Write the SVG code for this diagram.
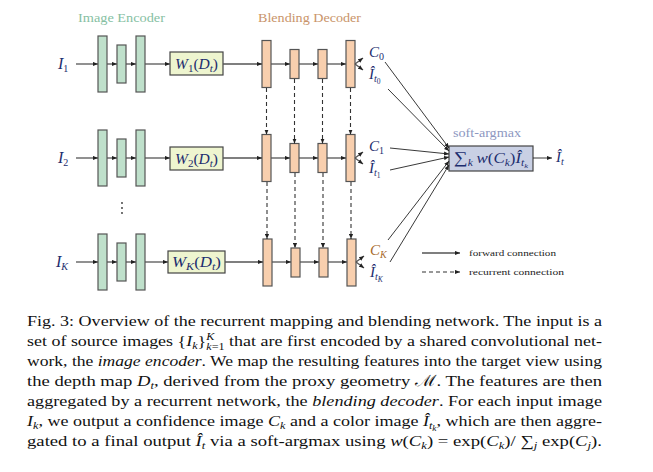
<svg xmlns="http://www.w3.org/2000/svg" width="653" height="472" viewBox="0 0 653 472">
<defs>
<style>
.enc{fill:#bfe0cb;stroke:#555;stroke-width:1.2}
.wbox{fill:#eef5cf;stroke:#444;stroke-width:1.2}
.dec{fill:#f8cfae;stroke:#555;stroke-width:1.2}
.sab{fill:#c9d0e4;stroke:#444;stroke-width:1.2}
.fw{stroke:#555;stroke-width:1.3;fill:none}
.th{stroke:#222;stroke-width:0.9;fill:none}
.rc{stroke:#333;stroke-width:1.1;fill:none;stroke-dasharray:4 3}
.m{font-family:"Liberation Serif",serif;font-style:italic;fill:#1c2d6e}
.cap{font-family:"Liberation Serif",serif;font-size:15.5px;fill:#111}
.it{font-style:italic}
.lg{font-family:"Liberation Serif",serif;font-size:9px;fill:#222}
</style>
<marker id="ah" viewBox="0 0 6 6" refX="6" refY="3" markerWidth="5" markerHeight="5" markerUnits="userSpaceOnUse" orient="auto"><path d="M0,0.5 L6,3 L0,5.5 z" fill="#222"/></marker>
</defs>
<rect width="653" height="472" fill="#fff"/>

<g id="titles" font-family="Liberation Serif, serif" font-size="13.5">
<text x="78" y="22" fill="#86bfa3" textLength="87" lengthAdjust="spacingAndGlyphs">Image Encoder</text>
<text x="258" y="22" fill="#c9946a" textLength="103" lengthAdjust="spacingAndGlyphs">Blending Decoder</text>
</g>

<g id="inputs" class="m" font-size="16">
<text x="58" y="69">I<tspan font-size="10" dy="3" font-style="normal">1</tspan></text>
<text x="58" y="163">I<tspan font-size="10" dy="3" font-style="normal">2</tspan></text>
<text x="56" y="267">I<tspan font-size="10" dy="3">K</tspan></text>
</g>

<g id="encoder1">
<rect class="enc" x="98" y="36" width="9" height="56"/>
<rect class="enc" x="117" y="45" width="9" height="38"/>
<rect class="enc" x="136" y="36" width="9" height="56"/>
</g>
<g id="encoder2">
<rect class="enc" x="98" y="130" width="9" height="56"/>
<rect class="enc" x="117" y="139" width="9" height="38"/>
<rect class="enc" x="136" y="130" width="9" height="56"/>
</g>
<g id="encoderK">
<rect class="enc" x="98" y="234" width="9" height="56"/>
<rect class="enc" x="117" y="243" width="9" height="38"/>
<rect class="enc" x="136" y="234" width="9" height="56"/>
</g>
<g id="dots" fill="#333">
<circle cx="122" cy="203" r="0.9"/><circle cx="122" cy="208" r="0.9"/><circle cx="122" cy="213" r="0.9"/>
</g>

<g id="warp1">
<rect class="wbox" x="170" y="52" width="53" height="23"/>
<text class="m" x="175" y="68.5" font-size="14" textLength="43" lengthAdjust="spacingAndGlyphs">W<tspan font-size="10" dy="3" font-style="normal">1</tspan><tspan dy="-3" font-style="normal">(</tspan>D<tspan font-size="10" dy="3">t</tspan><tspan dy="-3" font-style="normal">)</tspan></text>
</g>
<g id="warp2">
<rect class="wbox" x="170" y="147" width="53" height="23"/>
<text class="m" x="175" y="163.5" font-size="14" textLength="43" lengthAdjust="spacingAndGlyphs">W<tspan font-size="10" dy="3" font-style="normal">2</tspan><tspan dy="-3" font-style="normal">(</tspan>D<tspan font-size="10" dy="3">t</tspan><tspan dy="-3" font-style="normal">)</tspan></text>
</g>
<g id="warpK">
<rect class="wbox" x="168" y="251" width="57" height="22"/>
<text class="m" x="172" y="267" font-size="14" textLength="49" lengthAdjust="spacingAndGlyphs">W<tspan font-size="10" dy="3">K</tspan><tspan dy="-3" font-style="normal">(</tspan>D<tspan font-size="10" dy="3">t</tspan><tspan dy="-3" font-style="normal">)</tspan></text>
</g>

<g id="decoder1">
<rect class="dec" x="262" y="40.5" width="9" height="47"/>
<rect class="dec" x="290" y="49.5" width="9" height="29"/>
<rect class="dec" x="318" y="49.5" width="9" height="29"/>
<rect class="dec" x="346" y="40.5" width="9" height="47"/>
</g>
<g id="decoder2">
<rect class="dec" x="262" y="134.5" width="9" height="47"/>
<rect class="dec" x="290" y="143.5" width="9" height="29"/>
<rect class="dec" x="318" y="143.5" width="9" height="29"/>
<rect class="dec" x="346" y="134.5" width="9" height="47"/>
</g>
<g id="decoderK">
<rect class="dec" x="263" y="239" width="9" height="47"/>
<rect class="dec" x="291" y="248" width="9" height="29"/>
<rect class="dec" x="319" y="248" width="9" height="29"/>
<rect class="dec" x="347" y="239" width="9" height="47"/>
</g>

<g id="outputs" class="m" font-size="15">
<text x="369" y="57">C<tspan font-size="10" dy="3" font-style="normal">0</tspan></text>
<text x="369" y="79">Î<tspan font-size="10" dy="3">t</tspan><tspan font-size="7.5" dy="2" font-style="normal">0</tspan></text>
<text x="369" y="151">C<tspan font-size="10" dy="3" font-style="normal">1</tspan></text>
<text x="369" y="173">Î<tspan font-size="10" dy="3">t</tspan><tspan font-size="7.5" dy="2" font-style="normal">1</tspan></text>
<text x="370" y="255" fill="#a86a2a">C<tspan font-size="10" dy="3">K</tspan></text>
<text x="370" y="277">Î<tspan font-size="10" dy="3">t</tspan><tspan font-size="7.5" dy="2">K</tspan></text>
</g>

<g id="softargmax">
<text x="453" y="137" font-family="Liberation Serif, serif" font-size="12.5" fill="#8d97bf" textLength="68" lengthAdjust="spacingAndGlyphs">soft-argmax</text>
<rect class="sab" x="449" y="146" width="84" height="25"/>
<text class="m" x="454" y="163" font-size="14" fill="#111" textLength="74" lengthAdjust="spacingAndGlyphs"><tspan font-size="16" font-style="normal">∑</tspan><tspan font-size="9.5" dy="3">k</tspan><tspan dy="-3" dx="3">w</tspan><tspan font-style="normal">(</tspan>C<tspan font-size="9.5" dy="3">k</tspan><tspan dy="-3" font-style="normal">)</tspan>Î<tspan font-size="9.5" dy="3">t</tspan><tspan font-size="7" dy="2">k</tspan></text>
</g>
<g id="final" class="m" font-size="15">
<text x="556" y="162">Î<tspan font-size="10" dy="3">t</tspan></text>
</g>

<g id="connectors">
<path class="fw" marker-end="url(#ah)" d="M76,64 H98"/>
<path class="fw" marker-end="url(#ah)" d="M107,64 H117"/>
<path class="fw" marker-end="url(#ah)" d="M126,64 H136"/>
<path class="fw" marker-end="url(#ah)" d="M145,64 H170"/>
<path class="fw" marker-end="url(#ah)" d="M223,64 H262"/>
<path class="fw" marker-end="url(#ah)" d="M271,64 H290"/>
<path class="fw" marker-end="url(#ah)" d="M299,64 H318"/>
<path class="fw" marker-end="url(#ah)" d="M327,64 H346"/>
<path class="fw" marker-end="url(#ah)" d="M355,64 L363,58"/>
<path class="fw" marker-end="url(#ah)" d="M355,64 L363,70"/>
<path class="fw" marker-end="url(#ah)" d="M76,158 H98"/>
<path class="fw" marker-end="url(#ah)" d="M107,158 H117"/>
<path class="fw" marker-end="url(#ah)" d="M126,158 H136"/>
<path class="fw" marker-end="url(#ah)" d="M145,158 H170"/>
<path class="fw" marker-end="url(#ah)" d="M223,158 H262"/>
<path class="fw" marker-end="url(#ah)" d="M271,158 H290"/>
<path class="fw" marker-end="url(#ah)" d="M299,158 H318"/>
<path class="fw" marker-end="url(#ah)" d="M327,158 H346"/>
<path class="fw" marker-end="url(#ah)" d="M355,158 L363,152"/>
<path class="fw" marker-end="url(#ah)" d="M355,158 L363,164"/>
<path class="fw" marker-end="url(#ah)" d="M76,262 H98"/>
<path class="fw" marker-end="url(#ah)" d="M107,262 H117"/>
<path class="fw" marker-end="url(#ah)" d="M126,262 H136"/>
<path class="fw" marker-end="url(#ah)" d="M145,262 H168"/>
<path class="fw" marker-end="url(#ah)" d="M225,262 H263"/>
<path class="fw" marker-end="url(#ah)" d="M272,262 H291"/>
<path class="fw" marker-end="url(#ah)" d="M300,262 H319"/>
<path class="fw" marker-end="url(#ah)" d="M328,262 H347"/>
<path class="fw" marker-end="url(#ah)" d="M356,262 L364,256"/>
<path class="fw" marker-end="url(#ah)" d="M356,262 L364,268"/>
<path class="rc" marker-end="url(#ah)" d="M266.5,88 V134.5"/>
<path class="rc" marker-end="url(#ah)" d="M294.5,79 V143.5"/>
<path class="rc" marker-end="url(#ah)" d="M322.5,79 V143.5"/>
<path class="rc" marker-end="url(#ah)" d="M350.5,88 V134.5"/>
<path class="rc" marker-end="url(#ah)" d="M267,182 V239"/>
<path class="rc" marker-end="url(#ah)" d="M295,173 V248"/>
<path class="rc" marker-end="url(#ah)" d="M323,173 V248"/>
<path class="rc" marker-end="url(#ah)" d="M351,182 V239"/>
<path class="th" marker-end="url(#ah)" d="M385,62 L449,148"/>
<path class="th" marker-end="url(#ah)" d="M388,89 L449,151"/>
<path class="th" marker-end="url(#ah)" d="M390,148 L449,154"/>
<path class="th" marker-end="url(#ah)" d="M390,170 L449,157"/>
<path class="th" marker-end="url(#ah)" d="M388,240 L449,161"/>
<path class="th" marker-end="url(#ah)" d="M390,262 L449,165"/>
<path class="th" marker-end="url(#ah)" d="M533,158 H552"/>
<path class="fw" stroke="#777" marker-end="url(#ah)" d="M422,253 H460"/>
<path class="rc" marker-end="url(#ah)" d="M422,272 H460"/>
</g>

<g id="legend">
<text class="lg" x="469" y="256" textLength="87" lengthAdjust="spacingAndGlyphs">forward connection</text>
<text class="lg" x="469" y="275" textLength="95" lengthAdjust="spacingAndGlyphs">recurrent connection</text>
</g>

<g id="caption" class="cap">
<text x="27" y="326" textLength="575" lengthAdjust="spacingAndGlyphs">Fig. 3: Overview of the recurrent mapping and blending network. The input is a</text>
<text x="27" y="346" textLength="575" lengthAdjust="spacingAndGlyphs">set of source images {<tspan class="it">I</tspan><tspan class="it" font-size="10.5" dy="3">k</tspan><tspan dy="-3">}</tspan><tspan class="it" font-size="10.5" dy="-6">K</tspan><tspan font-size="10.5" dx="-7" dy="10"><tspan class="it">k</tspan>=1</tspan><tspan dy="-4"> that are first encoded by a shared convolutional net-</tspan></text>
<text x="27" y="366" textLength="575" lengthAdjust="spacingAndGlyphs">work, the <tspan class="it">image encoder</tspan>. We map the resulting features into the target view using</text>
<text x="27" y="386" textLength="575" lengthAdjust="spacingAndGlyphs">the depth map <tspan class="it">D</tspan><tspan class="it" font-size="10.5" dy="3">t</tspan><tspan dy="-3">, derived from the proxy geometry ℳ. The features are then</tspan></text>
<text x="27" y="406" textLength="575" lengthAdjust="spacingAndGlyphs">aggregated by a recurrent network, the <tspan class="it">blending decoder</tspan>. For each input image</text>
<text x="27" y="426" textLength="575" lengthAdjust="spacingAndGlyphs"><tspan class="it">I</tspan><tspan class="it" font-size="10.5" dy="3">k</tspan><tspan dy="-3">, we output a confidence image </tspan><tspan class="it">C</tspan><tspan class="it" font-size="10.5" dy="3">k</tspan><tspan dy="-3"> and a color image </tspan><tspan class="it">Î</tspan><tspan class="it" font-size="10.5" dy="3">t</tspan><tspan class="it" font-size="8" dy="2">k</tspan><tspan dy="-5">, which are then aggre-</tspan></text>
<text x="27" y="446" textLength="575" lengthAdjust="spacingAndGlyphs">gated to a final output <tspan class="it">Î</tspan><tspan class="it" font-size="10.5" dy="3">t</tspan><tspan dy="-3"> via a soft-argmax using </tspan><tspan class="it">w</tspan>(<tspan class="it">C</tspan><tspan class="it" font-size="10.5" dy="3">k</tspan><tspan dy="-3">) = exp(</tspan><tspan class="it">C</tspan><tspan class="it" font-size="10.5" dy="3">k</tspan><tspan dy="-3">)/ ∑</tspan><tspan class="it" font-size="10.5" dy="3">j</tspan><tspan dy="-3"> exp(</tspan><tspan class="it">C</tspan><tspan class="it" font-size="10.5" dy="3">j</tspan><tspan dy="-3">).</tspan></text>
</g>
</svg>
